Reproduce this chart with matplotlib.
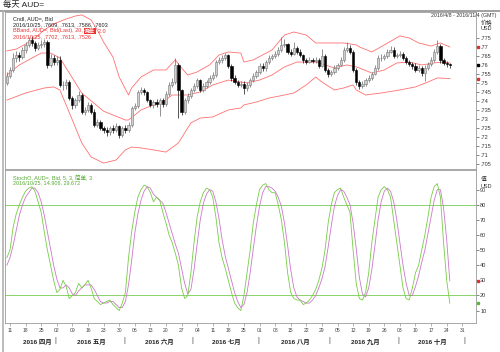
import pandas as pd
import matplotlib
matplotlib.use("Agg")
import matplotlib.pyplot as plt
from matplotlib.lines import Line2D

plt.rcParams['font.family'] = ['Liberation Sans', 'Noto Sans CJK SC']

# daily candles, 2016-04-08 .. 2016-10-25 (business days)
closes = [
    0.7541, 0.7574, 0.7641, 0.7657, 0.7646, 0.7685, 0.7713, 0.7741, 0.7724, 0.7696,
    0.7713, 0.7718, 0.7729, 0.7602, 0.7641, 0.7618, 0.7630, 0.7491, 0.7491, 0.7507,
    0.7419, 0.7380, 0.7407, 0.7435, 0.7341, 0.7352, 0.7380, 0.7341, 0.7268, 0.7285,
    0.7252, 0.7241, 0.7230, 0.7252, 0.7241, 0.7263, 0.7213, 0.7252, 0.7241, 0.7268,
    0.7363, 0.7374, 0.7452, 0.7463, 0.7452, 0.7407, 0.7380, 0.7396, 0.7385, 0.7407,
    0.7385, 0.7441, 0.7491, 0.7507, 0.7602, 0.7463, 0.7341, 0.7407, 0.7430, 0.7463,
    0.7485, 0.7518, 0.7463, 0.7485, 0.7507, 0.7530, 0.7546, 0.7618, 0.7630, 0.7641,
    0.7657, 0.7596, 0.7530, 0.7507, 0.7491, 0.7496, 0.7474, 0.7491, 0.7518, 0.7541,
    0.7563, 0.7596, 0.7585, 0.7618, 0.7641, 0.7652, 0.7663, 0.7685, 0.7713, 0.7718,
    0.7674, 0.7663, 0.7696, 0.7674, 0.7657, 0.7630, 0.7618, 0.7630, 0.7624, 0.7630,
    0.7596, 0.7652, 0.7574, 0.7552, 0.7563, 0.7585, 0.7602, 0.7630, 0.7685, 0.7696,
    0.7674, 0.7574, 0.7507, 0.7485, 0.7496, 0.7518, 0.7530, 0.7552, 0.7585, 0.7641,
    0.7641, 0.7652, 0.7674, 0.7685, 0.7652, 0.7657, 0.7663, 0.7641, 0.7618, 0.7607,
    0.7596, 0.7574, 0.7585, 0.7557, 0.7585, 0.7607, 0.7630, 0.7674, 0.7707, 0.7630,
    0.7613, 0.7609, 0.7603,
]
highs = [
    0.7560, 0.7590, 0.7670, 0.7680, 0.7675, 0.7700, 0.7730, 0.7755, 0.7760, 0.7735,
    0.7730, 0.7740, 0.7745, 0.7740, 0.7660, 0.7655, 0.7650, 0.7650, 0.7510, 0.7525,
    0.7520, 0.7430, 0.7420, 0.7460, 0.7445, 0.7370, 0.7395, 0.7390, 0.7355, 0.7300,
    0.7295, 0.7265, 0.7255, 0.7265, 0.7270, 0.7280, 0.7270, 0.7265, 0.7270, 0.7285,
    0.7375, 0.7390, 0.7465, 0.7480, 0.7475, 0.7460, 0.7415, 0.7410, 0.7415, 0.7420,
    0.7420, 0.7455, 0.7505, 0.7530, 0.7640, 0.7610, 0.7470, 0.7420, 0.7445, 0.7475,
    0.7500, 0.7530, 0.7525, 0.7500, 0.7520, 0.7545, 0.7560, 0.7630, 0.7645, 0.7655,
    0.7670, 0.7665, 0.7605, 0.7545, 0.7520, 0.7510, 0.7510, 0.7505, 0.7530, 0.7555,
    0.7575, 0.7610, 0.7610, 0.7630, 0.7655, 0.7665, 0.7680, 0.7700, 0.7755, 0.7745,
    0.7725, 0.7690, 0.7730, 0.7705, 0.7690, 0.7665, 0.7640, 0.7645, 0.7640, 0.7645,
    0.7640, 0.7690, 0.7660, 0.7585, 0.7575, 0.7600, 0.7615, 0.7645, 0.7700, 0.7730,
    0.7710, 0.7685, 0.7585, 0.7520, 0.7510, 0.7530, 0.7545, 0.7565, 0.7600, 0.7655,
    0.7660, 0.7665, 0.7690, 0.7705, 0.7700, 0.7670, 0.7680, 0.7675, 0.7650, 0.7630,
    0.7620, 0.7610, 0.7600, 0.7595, 0.7600, 0.7620, 0.7645, 0.7690, 0.7740, 0.7720,
    0.7640, 0.7625, 0.7613,
]
lows = [
    0.7490, 0.7530, 0.7565, 0.7620, 0.7625, 0.7635, 0.7670, 0.7700, 0.7705, 0.7680,
    0.7685, 0.7695, 0.7700, 0.7585, 0.7590, 0.7600, 0.7600, 0.7480, 0.7465, 0.7470,
    0.7405, 0.7360, 0.7365, 0.7395, 0.7330, 0.7325, 0.7340, 0.7330, 0.7255, 0.7255,
    0.7240, 0.7225, 0.7210, 0.7215, 0.7225, 0.7230, 0.7195, 0.7200, 0.7225, 0.7230,
    0.7260, 0.7350, 0.7365, 0.7440, 0.7435, 0.7395, 0.7370, 0.7365, 0.7370, 0.7320,
    0.7370, 0.7375, 0.7430, 0.7480, 0.7495, 0.7310, 0.7325, 0.7330, 0.7390, 0.7420,
    0.7450, 0.7475, 0.7450, 0.7450, 0.7475, 0.7495, 0.7520, 0.7535, 0.7605, 0.7615,
    0.7630, 0.7585, 0.7515, 0.7495, 0.7480, 0.7480, 0.7440, 0.7460, 0.7480, 0.7505,
    0.7530, 0.7550, 0.7570, 0.7570, 0.7605, 0.7630, 0.7640, 0.7650, 0.7675, 0.7700,
    0.7660, 0.7650, 0.7655, 0.7660, 0.7645, 0.7615, 0.7605, 0.7610, 0.7610, 0.7615,
    0.7585, 0.7590, 0.7560, 0.7535, 0.7540, 0.7550, 0.7575, 0.7595, 0.7620, 0.7675,
    0.7660, 0.7560, 0.7490, 0.7470, 0.7475, 0.7485, 0.7505, 0.7520, 0.7545, 0.7575,
    0.7625, 0.7630, 0.7640, 0.7670, 0.7640, 0.7640, 0.7645, 0.7630, 0.7605, 0.7595,
    0.7580, 0.7560, 0.7560, 0.7540, 0.7515, 0.7575, 0.7595, 0.7620, 0.7665, 0.7615,
    0.7600, 0.7590, 0.7586,
]
first_open = 0.7500

# Bollinger bands (20, 2.0) at sample dates
bb_up_dates = ['2016-04-08', '2016-04-13', '2016-04-18', '2016-04-21', '2016-04-26', '2016-04-29',
               '2016-05-05', '2016-05-10', '2016-05-12', '2016-05-17', '2016-05-19', '2016-05-23',
               '2016-05-26', '2016-05-30', '2016-06-02', '2016-06-03', '2016-06-08', '2016-06-14',
               '2016-06-20', '2016-06-23', '2016-06-27', '2016-06-29', '2016-07-04', '2016-07-08',
               '2016-07-13', '2016-07-18', '2016-07-22', '2016-07-25', '2016-07-28', '2016-08-05',
               '2016-08-11', '2016-08-16', '2016-08-22', '2016-08-25', '2016-08-30', '2016-09-07',
               '2016-09-13', '2016-09-14', '2016-09-20', '2016-09-26', '2016-10-03', '2016-10-06',
               '2016-10-11', '2016-10-17', '2016-10-20', '2016-10-25']
bb_up = [0.7680, 0.7690, 0.7718, 0.7752, 0.7796, 0.7830, 0.7857, 0.7874, 0.7880, 0.7852,
         0.7796, 0.7729, 0.7646, 0.7535, 0.7435, 0.7474, 0.7535, 0.7574, 0.7574, 0.7630,
         0.7585, 0.7546, 0.7563, 0.7602, 0.7657, 0.7674, 0.7668, 0.7618, 0.7630, 0.7685,
         0.7768, 0.7785, 0.7768, 0.7724, 0.7724, 0.7724, 0.7713, 0.7702, 0.7674, 0.7713,
         0.7763, 0.7752, 0.7724, 0.7707, 0.7724, 0.7702]
bb_mid_dates = ['2016-04-08', '2016-04-14', '2016-04-25', '2016-04-28', '2016-05-03', '2016-05-12',
                '2016-05-23', '2016-06-01', '2016-06-02', '2016-06-08', '2016-06-14', '2016-06-17',
                '2016-06-22', '2016-06-29', '2016-07-05', '2016-07-11', '2016-07-18', '2016-07-22',
                '2016-07-26', '2016-08-01', '2016-08-05', '2016-08-11', '2016-08-17', '2016-08-25',
                '2016-08-30', '2016-09-02', '2016-09-08', '2016-09-13', '2016-09-14', '2016-09-20',
                '2016-09-26', '2016-09-30', '2016-10-06', '2016-10-12', '2016-10-18', '2016-10-21',
                '2016-10-25']
bb_mid = [0.7546, 0.7602, 0.7668, 0.7668, 0.7641, 0.7446, 0.7345, 0.7296, 0.7296, 0.7352,
          0.7380, 0.7396, 0.7435, 0.7435, 0.7452, 0.7491, 0.7518, 0.7507, 0.7502, 0.7518,
          0.7546, 0.7591, 0.7618, 0.7618, 0.7602, 0.7585, 0.7602, 0.7591, 0.7585, 0.7557,
          0.7574, 0.7613, 0.7618, 0.7602, 0.7613, 0.7618, 0.7613]
bb_low_dates = ['2016-04-08', '2016-04-18', '2016-04-26', '2016-04-29', '2016-05-03', '2016-05-09',
                '2016-05-12', '2016-05-17', '2016-05-23', '2016-05-27', '2016-06-01', '2016-06-03',
                '2016-06-08', '2016-06-14', '2016-06-20', '2016-06-24', '2016-06-30', '2016-07-05',
                '2016-07-11', '2016-07-18', '2016-07-22', '2016-07-25', '2016-07-29', '2016-08-04',
                '2016-08-11', '2016-08-16', '2016-08-22', '2016-08-25', '2016-08-29', '2016-09-02',
                '2016-09-07', '2016-09-12', '2016-09-13', '2016-09-16', '2016-09-23', '2016-10-03',
                '2016-10-10', '2016-10-14', '2016-10-19', '2016-10-25']
bb_low = [0.7407, 0.7446, 0.7474, 0.7480, 0.7463, 0.7296, 0.7169, 0.7091, 0.7057, 0.7074,
          0.7130, 0.7146, 0.7141, 0.7130, 0.7118, 0.7169, 0.7280, 0.7307, 0.7313, 0.7352,
          0.7363, 0.7380, 0.7396, 0.7418, 0.7435, 0.7446, 0.7491, 0.7535, 0.7507, 0.7463,
          0.7474, 0.7491, 0.7463, 0.7435, 0.7446, 0.7463, 0.7480, 0.7507, 0.7530, 0.7526]

# Stochastic (5, 3, 3): %K green, %D purple
stoch_k = [
    45, 50, 65, 74, 80, 85, 89, 91, 92, 89, 82, 75, 62, 50, 40, 30, 22, 24, 30, 26,
    18, 20, 22, 28, 25, 27, 30, 25, 18, 16, 14, 15, 16, 17, 14, 12, 10, 15, 22, 45,
    62, 75, 85, 90, 93, 92, 88, 82, 85, 83, 75, 68, 60, 55, 48, 40, 25, 18, 20, 35,
    55, 72, 82, 88, 91, 90, 85, 72, 55, 45, 38, 30, 22, 15, 12, 10, 20, 35, 50, 68,
    80, 90, 93, 94, 90, 88, 88, 80, 70, 55, 35, 22, 18, 17, 17, 14, 15, 17, 20, 24,
    30, 38, 50, 68, 80, 88, 90, 91, 85, 80, 75, 50, 28, 18, 17, 22, 35, 55, 70, 85,
    90, 92, 90, 85, 70, 55, 40, 25, 18, 17, 25, 35, 40, 50, 60, 72, 85, 92, 94, 85,
    55, 30, 14.906,
]
stoch_d = [
    40, 45, 53, 63, 73, 80, 85, 88, 91, 91, 88, 82, 73, 62, 51, 40, 31, 25, 25, 27,
    25, 21, 20, 23, 25, 27, 27, 27, 24, 20, 16, 15, 15, 16, 16, 14, 12, 12, 16, 27,
    43, 61, 74, 83, 89, 92, 91, 87, 85, 83, 81, 75, 68, 61, 54, 48, 38, 28, 21, 24,
    37, 54, 70, 81, 87, 90, 89, 82, 71, 57, 46, 38, 30, 22, 16, 12, 14, 22, 35, 51,
    66, 79, 88, 92, 92, 91, 89, 85, 79, 68, 53, 37, 25, 19, 17, 16, 15, 15, 17, 20,
    25, 31, 39, 52, 66, 79, 86, 90, 89, 85, 80, 68, 51, 32, 21, 19, 25, 37, 53, 70,
    82, 89, 91, 89, 82, 70, 55, 40, 28, 20, 20, 26, 33, 42, 50, 61, 72, 83, 90, 90,
    78, 57, 29.672,
]

months = ['四月', '五月', '六月', '七月', '八月', '九月', '十月']
price_ticks = [0.705, 0.71, 0.715, 0.72, 0.725, 0.73, 0.735, 0.74, 0.745, 0.75,
               0.755, 0.76, 0.765, 0.77, 0.775]
stoch_ticks = [10, 20, 30, 40, 50, 60, 70, 80, 90]

days = pd.bdate_range('2016-04-08', '2016-11-04')
pos = {d: i for i, d in enumerate(days)}
n = len(closes)
xs = list(range(n))
opens = [first_open] + closes[:-1]


def to_x(dates):
    return [pos[pd.Timestamp(d)] for d in dates]


W, H = 500, 352
fig = plt.figure(figsize=(W / 100, H / 100), dpi=100)


def box(l, t, r, b):
    return [l / W, 1 - b / H, (r - l) / W, (b - t) / H]


ax1 = fig.add_axes(box(5, 12, 476, 169))
ax2 = fig.add_axes(box(5, 170, 476, 323), sharex=ax1)

grey = '#9a9a9a'
for ax in (ax1, ax2):
    for s in ax.spines.values():
        s.set_color(grey)
        s.set_linewidth(0.6)
    ax.yaxis.tick_right()
    ax.tick_params(axis='y', which='both', length=2, width=0.5, color='#555555',
                   labelsize=4, labelcolor='#333333', pad=1)

# candles
for i in xs:
    o, c = opens[i], closes[i]
    up = c >= o
    ax1.vlines(i, lows[i], highs[i], color='#666666' if up else '#111111', lw=0.5, zorder=2)
    ax1.bar(i, max(abs(c - o), 0.0002), bottom=min(o, c), width=0.72,
            color='#cfcfcf' if up else '#000000', edgecolor='#777777' if up else '#000000',
            linewidth=0.4, zorder=3)

band_col = '#ff7070'
ax1.plot(to_x(bb_up_dates), bb_up, color=band_col, lw=0.6, zorder=1)
ax1.plot(to_x(bb_mid_dates), bb_mid, color=band_col, lw=0.6, zorder=1)
ax1.plot(to_x(bb_low_dates), bb_low, color=band_col, lw=0.6, zorder=1)

ax1.set_xlim(-0.6, 150.4)
ax1.set_ylim(0.7024, 0.7896)
ax1.set_yticks(price_ticks)
ax1.set_yticklabels([('%.3f' % t).rstrip('0')[1:] for t in price_ticks])
ax1.tick_params(axis='x', length=0, labelbottom=False)

# stochastic
ax2.axhline(80, color='#77cc55', lw=0.6)
ax2.axhline(20, color='#77cc55', lw=0.6)
ax2.plot(xs, stoch_d, color='#cc77cc', lw=0.6)
ax2.plot(xs, stoch_k, color='#77cc44', lw=0.6)
ax2.set_ylim(1.8, 103)
ax2.set_yticks(stoch_ticks)
ax2.set_yticklabels([str(t) for t in stoch_ticks])

mondays = [d for d in days if d.weekday() == 0]
ax2.set_xticks([pos[d] for d in mondays])
ax2.set_xticklabels([d.strftime('%d') for d in mondays])
ax2.tick_params(axis='x', length=2, width=0.4, color='#777777', labelsize=3.6,
                labelcolor='#444444', pad=1.5)

# month labels and separators at the first business day of each month
bounds = [-0.6]
for m in range(5, 12):
    bounds.append(pos[[d for d in days if d.month == m][0]])
xt = ax2.get_xaxis_transform()
for k, name in enumerate(months):
    left, right = bounds[k], bounds[k + 1]
    ax2.text((left + right) / 2 + (2 if k == 0 else 0), -0.125, '2016 ' + name, transform=xt,
             ha='center', va='center', fontsize=4.6, fontweight='bold', color='#222222')
for f in bounds[1:]:
    ax2.text(f - 0.5, -0.115, '|', transform=xt, ha='center', va='center', fontsize=5,
             color='#444444')

# axis markers for the last values
yt1 = ax1.get_yaxis_transform()
yt2 = ax2.get_yaxis_transform()
for v, col in ((bb_up[-1], '#e03030'), (closes[-1], '#000000'), (bb_low[-1], '#e03030')):
    ax1.plot([1.004], [v], marker='s', ms=1.6, color=col, transform=yt1, clip_on=False)
ax2.plot([1.004], [stoch_d[-1]], marker='s', ms=1.6, color='#e03030', transform=yt2, clip_on=False)
ax2.plot([1.004], [stoch_k[-1]], marker='s', ms=1.6, color='#55bb33', transform=yt2, clip_on=False)

# axis headers
fig.text(481 / W, 1 - 23 / H, '价格', fontsize=4.2, color='#333333', va='center')
fig.text(481 / W, 1 - 29 / H, 'USD', fontsize=4, color='#333333', va='center')
fig.text(481 / W, 1 - 179 / H, '值', fontsize=4.2, color='#333333', va='center')
fig.text(481 / W, 1 - 186 / H, 'USD', fontsize=4, color='#333333', va='center')

# legends
fs = 4
ax1.text(0.017, 0.975, 'Cndl, AUD=, Bid', transform=ax1.transAxes, fontsize=fs, va='top', color='#222222')
ax1.text(0.017, 0.935, '2016/10/25, .7609, .7613, .7586, .7603', transform=ax1.transAxes,
         fontsize=fs, va='top', color='#222222')
t1 = ax1.text(0.017, 0.895, 'BBand, AUD=, Bid(Last), 20, ', transform=ax1.transAxes,
              fontsize=fs, va='top', color='#ee3333')
t2 = ax1.annotate('偏差', xy=(1, 0), xycoords=t1, va='bottom', fontsize=fs, color='white',
                  bbox=dict(boxstyle='square,pad=0.05', fc='#ee3333', ec='none'))
ax1.annotate(', 2.0', xy=(1, 0), xycoords=t2, va='bottom', fontsize=fs, color='#ee3333')
ax1.text(0.017, 0.855, '2016/10/25, .7702, .7613, .7526', transform=ax1.transAxes,
         fontsize=fs, va='top', color='#ee3333')

ax2.text(0.017, 0.975, 'StochO, AUD=, Bid, 5, 3, 简单, 3', transform=ax2.transAxes,
         fontsize=fs, va='top', color='#55aa33')
ax2.text(0.017, 0.935, '2016/10/25, 14.906, 29.672', transform=ax2.transAxes,
         fontsize=fs, va='top', color='#55aa33')

# window chrome
fig.text(3 / W, 1 - 5 / H, '每天 AUD=', fontsize=6, va='center', color='#222222')
fig.text(496 / W, 1 - 16 / H, '2016/4/8 - 2016/11/4 (GMT)', fontsize=3.8, ha='right',
         va='center', color='#333333')
fig.add_artist(Line2D([0, 1], [1 - 10.5 / H, 1 - 10.5 / H], color='#a0a0a0', lw=1.4))
fig.add_artist(Line2D([3 / W, 3 / W], [0, 1 - 10.5 / H], color='#b0b0b0', lw=1.2))

fig.savefig('out.png', dpi=100)
